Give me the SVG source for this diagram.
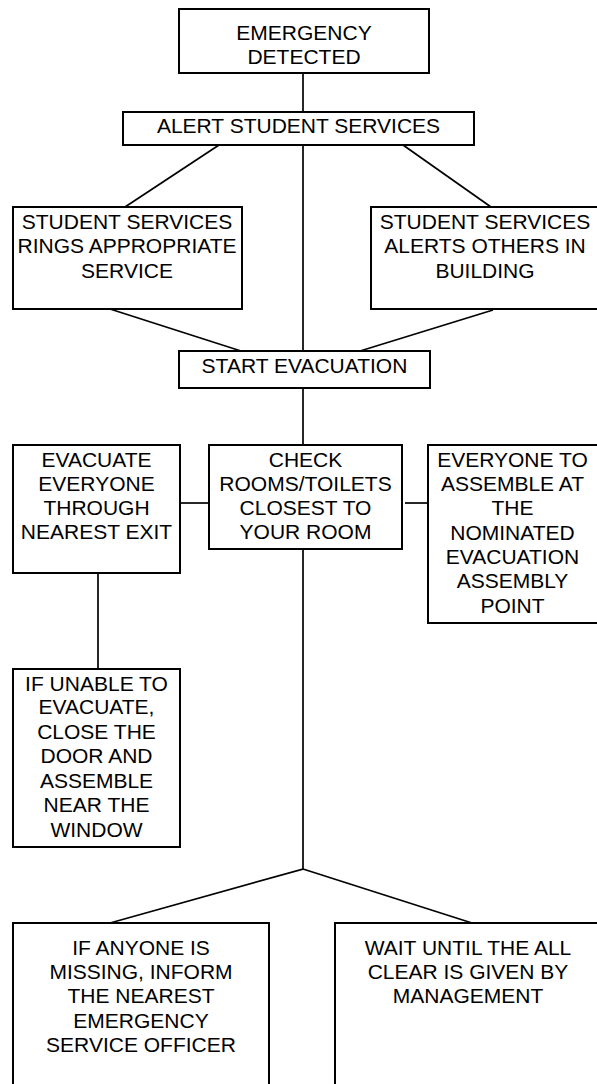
<svg xmlns="http://www.w3.org/2000/svg" width="597" height="1084" viewBox="0 0 597 1084">
<style>
.box{fill:#fff;stroke:#000;stroke-width:2}
.ln{fill:none;stroke:#000;stroke-width:1.7}
text{font-family:"Liberation Sans",Arial,sans-serif;font-size:21px;fill:#000;text-anchor:middle}
</style>
<rect width="597" height="1084" fill="#fff"/>
<g id="connectors">
<line class="ln" x1="303" y1="73" x2="303" y2="112"/>
<line class="ln" x1="219" y1="145" x2="125" y2="207"/>
<line class="ln" x1="403" y1="145" x2="491" y2="207"/>
<line class="ln" x1="303" y1="145" x2="303" y2="351"/>
<line class="ln" x1="110" y1="309" x2="241" y2="351"/>
<line class="ln" x1="493" y1="310" x2="360" y2="351"/>
<line class="ln" x1="303" y1="388" x2="303" y2="445"/>
<line class="ln" x1="180" y1="503" x2="209" y2="503"/>
<line class="ln" x1="405" y1="503" x2="428" y2="503"/>
<line class="ln" x1="98" y1="573" x2="98" y2="669"/>
<polyline class="ln" points="303,549 303,869 110,923"/>
<line class="ln" x1="303" y1="869" x2="472" y2="923"/>
</g>
<g id="emergency">
<rect class="box" x="179" y="9" width="250" height="64"/>
<text x="304" y="40">EMERGENCY</text>
<text x="304" y="64">DETECTED</text>
</g>
<g id="alert">
<rect class="box" x="123" y="112" width="351" height="33"/>
<text x="298.5" y="133">ALERT STUDENT SERVICES</text>
</g>
<g id="rings">
<rect class="box" x="13" y="207" width="229" height="102"/>
<text x="127" y="229">STUDENT SERVICES</text>
<text x="127" y="253">RINGS APPROPRIATE</text>
<text x="127" y="278">SERVICE</text>
</g>
<g id="alerts-others">
<rect class="box" x="371" y="207" width="230" height="102"/>
<text x="485" y="229">STUDENT SERVICES</text>
<text x="485" y="253">ALERTS OTHERS IN</text>
<text x="485" y="278">BUILDING</text>
</g>
<g id="start">
<rect class="box" x="179" y="351" width="251" height="37"/>
<text x="304.5" y="373">START EVACUATION</text>
</g>
<g id="evacuate">
<rect class="box" x="13" y="445" width="167" height="128"/>
<text x="96.5" y="467">EVACUATE</text>
<text x="96.5" y="491">EVERYONE</text>
<text x="96.5" y="515">THROUGH</text>
<text x="96.5" y="539">NEAREST EXIT</text>
</g>
<g id="check">
<rect class="box" x="209" y="445" width="193" height="104"/>
<text x="305.5" y="467">CHECK</text>
<text x="305.5" y="491">ROOMS/TOILETS</text>
<text x="305.5" y="515">CLOSEST TO</text>
<text x="305.5" y="539">YOUR ROOM</text>
</g>
<g id="assemble">
<rect class="box" x="428" y="445" width="172" height="178"/>
<text x="512.5" y="467">EVERYONE TO</text>
<text x="512.5" y="491">ASSEMBLE AT</text>
<text x="512.5" y="515">THE</text>
<text x="512.5" y="540">NOMINATED</text>
<text x="512.5" y="564">EVACUATION</text>
<text x="512.5" y="588">ASSEMBLY</text>
<text x="512.5" y="613">POINT</text>
</g>
<g id="unable">
<rect class="box" x="13" y="669" width="167" height="178"/>
<text x="96.5" y="691">IF UNABLE TO</text>
<text x="96.5" y="714">EVACUATE,</text>
<text x="96.5" y="739">CLOSE THE</text>
<text x="96.5" y="763">DOOR AND</text>
<text x="96.5" y="788">ASSEMBLE</text>
<text x="96.5" y="812">NEAR THE</text>
<text x="96.5" y="837">WINDOW</text>
</g>
<g id="missing">
<rect class="box" x="13" y="923" width="256" height="170"/>
<text x="141" y="955">IF ANYONE IS</text>
<text x="141" y="979">MISSING, INFORM</text>
<text x="141" y="1003">THE NEAREST</text>
<text x="141" y="1028">EMERGENCY</text>
<text x="141" y="1052">SERVICE OFFICER</text>
</g>
<g id="wait">
<rect class="box" x="335" y="923" width="266" height="170"/>
<text x="468" y="955">WAIT UNTIL THE ALL</text>
<text x="468" y="979">CLEAR IS GIVEN BY</text>
<text x="468" y="1003">MANAGEMENT</text>
</g>
</svg>
